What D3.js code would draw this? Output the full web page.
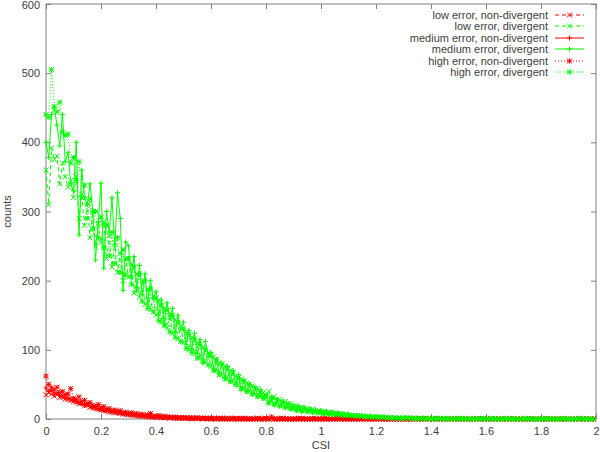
<!DOCTYPE html>
<html>
<head>
<meta charset="utf-8">
<script src="https://cdnjs.cloudflare.com/ajax/libs/d3/7.8.5/d3.min.js"></script>
<style>
  body { margin: 0; background: #fff; }
  svg { display: block; font-family: "Liberation Sans", Arial, sans-serif; }
  .lbl { font-size: 11px; fill: #404040; }
</style>
</head>
<body>
<div id="chart"></div>
<script>
// CSI bins: 0.00 .. 1.99, step 0.01
var bins = d3.range(0, 200).map(function(i) { return i / 100; });
var xTicks = [0, 0.2, 0.4, 0.6, 0.8, 1, 1.2, 1.4, 1.6, 1.8, 2];
var yTicks = [0, 100, 200, 300, 400, 500, 600];

var lowNonDiv = [
  35,38,36,33,35,31,32,29,28,27, 25,24,22,23,19,20,17,16,15,14,
  13,12,12,10,10,9,9,8,7,7, 6,6,5,5,4,4,4,3,3,3,
  2,3,2,2,2,1,2,1,1,1, 1,1,1,0,1,1,1,0,1,0,
  0,1,0,1,0,0,1,0,0,1, 0,0,1,0,0,0,0,1,0,0,
  1,0,0,0,0,0,1,0,0,0, 0,0,0,1,0,0,0,0,0,0,
  0,1,0,0,0,0,0,0,0,0, 0,0,0,0,0,1,0,0,0,0,
  0,0,0,0,0,0,0,0,0,0, 0,0,0,0,0,0,0,0,1,0,
  0,0,0,0,0,0,0,0,0,0, 0,0,0,0,0,0,0,0,0,0,
  0,0,0,0,0,0,0,0,0,0, 0,0,0,0,0,0,0,0,0,0,
  0,0,0,0,0,0,0,0,0,0, 0,0,0,0,0,0,0,0,0,0
];
var lowDiv = [
  360,310,392,375,380,340,370,350,335,345, 320,350,290,325,280,310,262,300,250,282,
  255,285,232,265,220,255,212,240,200,232, 205,225,182,210,176,200,166,188,158,178,
  150,172,140,160,132,152,124,144,116,134, 110,126,100,118,94,110,88,104,82,96,
  76,90,70,82,64,76,58,70,54,62, 48,58,44,52,40,48,36,44,33,38,
  30,40,26,32,23,28,20,25,18,22, 15,19,13,17,12,15,11,14,10,12,
  9,11,8,10,7,9,6,8,5,7, 5,5,4,4,4,3,3,3,2,3,
  2,3,2,2,1,2,1,1,1,1, 1,1,1,0,1,0,1,0,1,0,
  0,0,1,0,0,1,0,0,0,1, 0,1,0,0,0,0,0,1,0,0,
  0,0,0,1,0,0,0,0,0,1, 1,0,0,0,0,0,1,0,0,0,
  0,0,0,1,0,0,0,0,0,0, 0,0,0,0,1,0,0,0,0,0
];
var medNonDiv = [
  45,40,42,36,38,34,33,30,31,28, 27,25,24,22,20,21,18,17,16,15,
  14,13,12,12,10,11,9,9,8,7, 7,6,6,5,5,4,4,4,3,3,
  3,3,2,2,2,2,2,1,2,1, 1,1,1,1,1,1,0,1,1,0,
  1,0,1,0,0,1,0,0,1,0, 0,0,1,0,0,0,1,0,0,0,
  0,0,2,0,0,0,0,1,0,0, 0,1,0,0,0,0,0,0,1,0,
  0,0,0,0,1,0,0,0,0,0, 0,0,0,0,0,0,0,1,0,0,
  0,0,0,0,0,0,0,0,0,0, 0,0,0,1,0,0,0,0,0,0,
  0,0,0,0,0,0,0,0,0,0, 0,0,0,0,0,0,0,0,0,0,
  0,0,0,0,0,0,0,0,0,0, 0,0,0,0,0,0,0,0,0,0,
  0,0,0,0,0,0,0,0,0,0, 0,0,0,0,0,0,0,0,0,0
];
var medDiv = [
  400,378,440,450,425,395,440,372,385,340, 330,400,266,360,320,310,340,300,230,285,
  341,218,300,270,320,250,327,290,186,256, 250,205,235,190,222,180,210,165,200,175,
  184,150,172,139,168,145,160,125,150,130, 140,108,128,100,124,95,115,81,112,90,
  96,72,83,66,80,60,76,55,70,50, 64,42,56,40,50,36,46,32,42,30,
  35,22,30,20,28,18,25,16,22,14, 18,12,17,10,15,11,14,9,13,9,
  12,7,11,6,10,6,8,5,7,5, 6,4,5,3,5,3,4,2,4,2,
  3,2,2,3,1,2,2,1,1,2, 1,1,0,1,1,1,0,1,0,0,
  1,0,0,1,0,0,0,1,0,0, 0,0,1,0,0,0,1,0,0,0,
  0,1,0,0,0,1,0,0,0,0, 0,0,0,1,0,0,0,0,1,0,
  0,0,0,0,0,0,1,0,0,0, 0,0,1,0,0,0,0,0,0,0
];
var highNonDiv = [
  62,50,45,42,46,38,40,35,36,44, 30,28,32,25,27,22,24,20,18,21,
  16,18,14,15,12,13,11,12,9,10, 8,9,7,8,6,7,5,6,8,4,
  4,5,3,4,3,3,2,3,2,2, 2,2,1,2,1,2,1,1,1,1,
  1,1,0,1,1,0,1,0,1,0, 0,1,0,0,1,0,0,1,0,0,
  1,0,3,0,0,1,0,0,0,0, 0,0,1,0,0,0,0,1,0,0,
  0,0,0,0,0,0,1,0,0,0, 0,0,0,0,0,0,0,0,0,0,
  0,1,0,0,0,0,0,0,0,0, 0,0,0,0,0,0,0,0,0,0,
  0,0,0,0,0,0,0,0,0,0, 0,0,0,0,0,0,0,0,0,0,
  0,0,0,0,0,0,0,0,0,0, 0,0,0,0,0,0,0,0,0,0,
  0,0,0,0,0,0,0,0,0,0, 0,0,0,0,0,0,0,0,0,0
];
var highDiv = [
  440,436,505,452,444,458,415,410,412,370, 378,345,372,320,338,290,318,275,300,262,
  292,248,280,236,270,225,262,212,245,208, 232,195,220,185,210,170,200,160,188,155,
  175,142,165,135,158,126,150,118,140,112, 130,102,122,96,116,88,108,84,100,78,
  92,70,86,64,80,58,74,54,66,50, 60,44,55,40,50,36,45,33,40,30,
  34,24,31,21,28,19,25,17,22,15, 19,13,17,12,16,11,14,10,12,9,
  11,8,10,7,9,6,8,6,7,5, 6,5,5,4,5,4,3,4,3,3,
  3,2,3,2,2,2,1,2,1,1, 1,2,1,1,1,0,1,1,0,1,
  0,1,0,1,0,0,1,0,0,0, 1,0,0,0,1,0,0,0,0,1,
  0,0,1,0,0,0,0,1,0,0, 0,0,0,0,1,0,0,0,0,0,
  0,1,0,0,0,0,0,0,1,0, 0,0,0,0,0,1,0,0,0,0
];

var series = [
  { name: "low error, non-divergent", values: lowNonDiv, color: "#ff0000", dash: "4,3", mark: "x" },
  { name: "low error, divergent", values: lowDiv, color: "#00ff00", dash: "4,3", mark: "x" },
  { name: "medium error, non-divergent", values: medNonDiv, color: "#ff0000", dash: null, mark: "+" },
  { name: "medium error, divergent", values: medDiv, color: "#00ff00", dash: null, mark: "+" },
  { name: "high error, non-divergent", values: highNonDiv, color: "#ff0000", dash: "1,2", mark: "*" },
  { name: "high error, divergent", values: highDiv, color: "#00ff00", dash: "1,2", mark: "*" }
];

var width = 600, height = 452;
var plot = { left: 46, right: 596, top: 4, bottom: 419 };

var svg = d3.select("#chart")
    .append("svg")
    .attr("width", width)
    .attr("height", height);

var xScale = d3.scaleLinear().domain([0, 2]).range([plot.left, plot.right]);
var yScale = d3.scaleLinear().domain([0, 600]).range([plot.bottom, plot.top]);

function markPath(m, s) {
    var plus = "M" + (-s) + ",0H" + s + "M0," + (-s) + "V" + s;
    var cross = "M" + (-s) + "," + (-s) + "L" + s + "," + s + "M" + (-s) + "," + s + "L" + s + "," + (-s);
    if (m == "+") return plus;
    if (m == "x") return cross;
    return plus + cross;
}

// axes with inward ticks (mirrored on top/right)
var tickLen = 5;
svg.append("g")
    .attr("transform", "translate(0," + plot.bottom + ")")
    .call(d3.axisBottom(xScale).tickValues(xTicks).tickSizeInner(-tickLen).tickSizeOuter(0).tickPadding(8)
        .tickFormat(function(d) { return d3.format("")(+d.toFixed(1)); }));
svg.append("g")
    .attr("transform", "translate(0," + plot.top + ")")
    .call(d3.axisTop(xScale).tickValues(xTicks).tickSizeInner(-tickLen).tickSizeOuter(0).tickFormat(""));
svg.append("g")
    .attr("transform", "translate(" + plot.left + ",0)")
    .call(d3.axisLeft(yScale).tickValues(yTicks).tickSizeInner(-tickLen).tickSizeOuter(0).tickPadding(6));
svg.append("g")
    .attr("transform", "translate(" + plot.right + ",0)")
    .call(d3.axisRight(yScale).tickValues(yTicks).tickSizeInner(-tickLen).tickSizeOuter(0).tickFormat(""));

svg.selectAll(".domain").remove();
svg.selectAll(".tick line").attr("stroke", "#808080");
svg.selectAll(".tick text")
    .attr("class", "lbl")
    .attr("fill", "#404040")
    .style("font-size", "11px")
    .style("font-family", "'Liberation Sans', Arial, sans-serif");
// keep the top label inside the picture
svg.selectAll(".tick text").filter(function(d) { return d === 600; }).attr("dy", "0.45em");

svg.append("rect")
    .attr("x", plot.left)
    .attr("y", plot.top)
    .attr("width", plot.right - plot.left)
    .attr("height", plot.bottom - plot.top)
    .attr("fill", "none")
    .attr("stroke", "#808080")
    .attr("stroke-width", 1);

// axis titles
svg.append("text")
    .attr("class", "lbl")
    .attr("x", (plot.left + plot.right) / 2)
    .attr("y", 449)
    .attr("text-anchor", "middle")
    .text("CSI");
svg.append("text")
    .attr("class", "lbl")
    .attr("transform", "translate(11," + ((plot.top + plot.bottom) / 2) + ") rotate(-90)")
    .attr("text-anchor", "middle")
    .text("counts");

var line = d3.line()
    .x(function(d, i) { return xScale(bins[i]); })
    .y(function(d) { return yScale(d); });

var plotArea = svg.append("g");
series.forEach(function(s) {
    var g = plotArea.append("g");
    g.append("path")
        .datum(s.values)
        .attr("d", line)
        .attr("fill", "none")
        .attr("stroke", s.color)
        .attr("stroke-width", 1)
        .attr("stroke-dasharray", s.dash);
    g.selectAll("path.pt")
        .data(s.values)
        .enter()
        .append("path")
        .attr("class", "pt")
        .attr("transform", function(d, i) {
            return "translate(" + xScale(bins[i]) + "," + yScale(d) + ")";
        })
        .attr("d", markPath(s.mark, 2.5))
        .attr("fill", "none")
        .attr("stroke", s.color)
        .attr("stroke-width", 1);
});

// legend
var legend = svg.append("g");
series.forEach(function(s, i) {
    var y = Math.round(14.5 + i * 11.5);
    legend.append("text")
        .attr("class", "lbl")
        .attr("x", 548)
        .attr("y", y)
        .attr("dy", "0.35em")
        .attr("text-anchor", "end")
        .text(s.name);
    legend.append("line")
        .attr("x1", 555).attr("x2", 584)
        .attr("y1", y).attr("y2", y)
        .attr("stroke", s.color)
        .attr("stroke-dasharray", s.dash);
    legend.append("path")
        .attr("transform", "translate(569.5," + y + ")")
        .attr("d", markPath(s.mark, 2.5))
        .attr("fill", "none")
        .attr("stroke", s.color);
});
</script>
</body>
</html>
